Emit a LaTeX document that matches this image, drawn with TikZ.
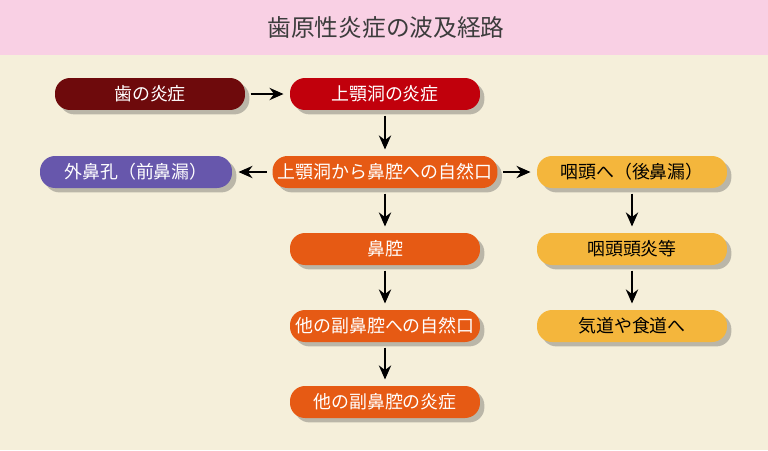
\documentclass[tikz,border=0pt]{standalone}
\usepackage{fontspec}
\setmainfont{Noto Sans CJK JP}
\usepackage{tikz}
\usetikzlibrary{arrows.meta, positioning, shadows}

\definecolor{titlepink}{HTML}{F9D0E4}
\definecolor{paper}{HTML}{F5EFDA}
\definecolor{toothred}{HTML}{6E0A0C}
\definecolor{sinusred}{HTML}{C1000C}
\definecolor{noseorange}{HTML}{E65A14}
\definecolor{frontpurple}{HTML}{6757AC}
\definecolor{throatyellow}{HTML}{F4B63C}
\definecolor{titletext}{HTML}{3C3C3C}

\begin{document}
\begin{tikzpicture}[
  x=0.02cm, y=-0.02cm,
  >=Stealth,
  pill/.style={rounded corners=0.3cm, minimum width=3.8cm, minimum height=0.64cm,
    inner sep=0pt, font=\fontsize{10.2}{12}\selectfont, text=white,
    drop shadow={shadow xshift=2.5pt, shadow yshift=-2.5pt, opacity=0.35, fill=black!70}},
  flow/.style={line width=1.1pt, black, shorten <=3pt, shorten >=3.5pt,
    -{Stealth[length=8pt, width=7pt]}},
]

% --- Background and title band ---
\fill[paper] (0, 0) rectangle (768, 450);
\fill[titlepink] (0, 0) rectangle (768, 55);
\node[font=\fontsize{13.5}{16}\selectfont, text=titletext] (title) at (386, 27) {歯原性炎症の波及経路};

% --- Centre column ---
\node[pill, fill=toothred] (tooth) at (150, 94) {歯の炎症};
\node[pill, fill=sinusred] (sinus) at (385, 94) {上顎洞の炎症};
\node[pill, fill=noseorange, minimum width=4.5cm] (ostium) at (385, 172) {上顎洞から鼻腔への自然口};
\node[pill, fill=noseorange] (nasal) at (385, 249) {鼻腔};
\node[pill, fill=noseorange] (otherostium) at (385, 326) {他の副鼻腔への自然口};
\node[pill, fill=noseorange] (othersinus) at (385, 402) {他の副鼻腔の炎症};

% --- Side branches ---
\node[pill, fill=frontpurple, minimum width=3.84cm] (nostril) at (136, 172) {外鼻孔（前鼻漏）};
\node[pill, fill=throatyellow, text=black] (pharynx) at (632, 172) {咽頭へ（後鼻漏）};
\node[pill, fill=throatyellow, text=black] (pharyngitis) at (632, 249) {咽頭頭炎等};
\node[pill, fill=throatyellow, text=black] (airway) at (632, 326) {気道や食道へ};

% Arrows
\draw[flow] (tooth) -- (sinus);
\draw[flow] (sinus) -- (ostium);
\draw[flow] (ostium) -- (nostril);
\draw[flow] (ostium) -- (pharynx);
\draw[flow] (ostium) -- (nasal);
\draw[flow] (nasal) -- (otherostium);
\draw[flow] (otherostium) -- (othersinus);
\draw[flow] (pharynx) -- (pharyngitis);
\draw[flow] (pharyngitis) -- (airway);

\useasboundingbox (0, 0) rectangle (768, 450);
\end{tikzpicture}
\end{document}
